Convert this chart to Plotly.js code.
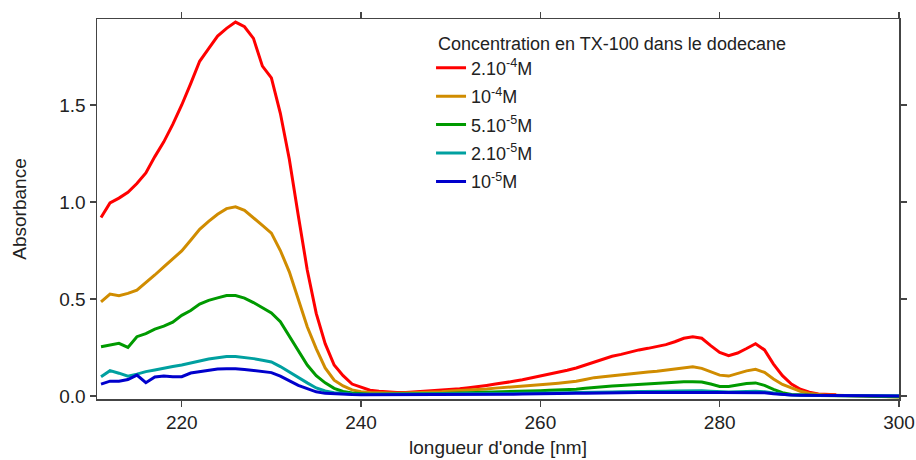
<!DOCTYPE html>
<html>
<head>
<meta charset="utf-8">
<script src="https://cdn.plot.ly/plotly-3.0.1.min.js"></script>
<style>html,body{margin:0;padding:0;background:#fff;} #chart{width:916px;height:460px;}</style>
</head>
<body>
<div id="chart"></div>
<script>
// wavelengths (nm) 211..300
const wavelength = [211,212,213,214,215,216,217,218,219,220,221,222,223,224,225,226,227,228,229,230,
  231,232,233,234,235,236,237,238,239,240,241,242,243,244,245,246,247,248,249,250,
  251,252,253,254,255,256,257,258,259,260,261,262,263,264,265,266,267,268,269,270,
  271,272,273,274,275,276,277,278,279,280,281,282,283,284,285,286,287,288,289,290,
  291,292,293,294,295,296,297,298,299,300];

const seriesNames = ["2.10<sup>-4</sup>M","10<sup>-4</sup>M","5.10<sup>-5</sup>M","2.10<sup>-5</sup>M","10<sup>-5</sup>M"];

const abs_2e4 = [0.92,0.995,1.02,1.05,1.095,1.15,1.234,1.31,1.40,1.50,1.61,1.725,1.79,1.855,1.895,1.927,1.903,1.843,1.70,1.64,
  1.457,1.22,0.93,0.65,0.426,0.27,0.16,0.105,0.062,0.045,0.03,0.025,0.02,0.018,0.018,0.021,0.024,0.027,0.03,0.033,
  0.038,0.043,0.048,0.055,0.062,0.068,0.076,0.084,0.093,0.102,0.112,0.122,0.133,0.145,0.16,0.176,0.19,0.205,0.215,0.228,
  0.238,0.246,0.255,0.265,0.28,0.298,0.306,0.298,0.26,0.225,0.208,0.222,0.245,0.27,0.238,0.165,0.105,0.062,0.035,0.02,
  0.011,0.008,0.007,null,null,null,null,null,null,null];

const abs_1e4 = [0.486,0.526,0.517,0.529,0.546,0.583,0.624,0.666,0.705,0.748,0.803,0.859,0.90,0.937,0.966,0.975,0.957,0.92,0.88,0.84,
  0.75,0.64,0.50,0.357,0.245,0.145,0.082,0.052,0.032,0.022,0.018,0.016,0.015,0.015,0.016,0.017,0.019,0.021,0.023,0.026,
  0.028,0.031,0.034,0.037,0.041,0.044,0.047,0.051,0.055,0.058,0.062,0.066,0.071,0.076,0.085,0.095,0.10,0.105,0.11,0.116,
  0.122,0.124,0.128,0.134,0.142,0.148,0.151,0.143,0.125,0.108,0.103,0.115,0.13,0.138,0.122,0.088,0.06,0.042,0.025,0.014,
  0.008,0.005,0.004,0.003,0.002,0.0,-0.002,-0.003,-0.004,-0.005];

const abs_5e5 = [0.254,0.262,0.272,0.251,0.306,0.322,0.345,0.36,0.381,0.416,0.441,0.474,0.493,0.506,0.518,0.518,0.505,0.482,0.456,0.428,
  0.383,0.31,0.235,0.16,0.105,0.068,0.04,0.024,0.016,0.012,0.01,0.009,0.009,0.009,0.01,0.01,0.011,0.012,0.013,0.014,
  0.015,0.016,0.017,0.018,0.02,0.021,0.023,0.025,0.026,0.028,0.03,0.031,0.033,0.035,0.04,0.045,0.05,0.052,0.055,0.058,
  0.06,0.063,0.066,0.069,0.072,0.074,0.074,0.073,0.062,0.05,0.05,0.058,0.065,0.068,0.055,0.035,0.018,0.008,0.005,0.004,
  0.003,0.003,0.002,0.002,0.001,0.0,-0.001,-0.002,-0.003,-0.003];

const abs_2e5 = [0.10,0.131,0.118,0.102,0.113,0.126,0.134,0.144,0.152,0.16,0.171,0.183,0.191,0.197,0.204,0.204,0.199,0.193,0.185,0.176,
  0.152,0.124,0.093,0.068,0.042,0.026,0.017,0.013,0.011,0.01,0.01,0.01,0.01,0.01,0.01,0.01,0.01,0.011,0.011,0.011,
  0.011,0.012,0.012,0.012,0.013,0.013,0.013,0.014,0.014,0.015,0.015,0.016,0.017,0.018,0.018,0.019,0.02,0.021,0.022,0.022,
  0.023,0.024,0.025,0.025,0.026,0.027,0.028,0.027,0.025,0.022,0.021,0.023,0.024,0.025,0.022,0.015,0.009,0.006,0.004,0.004,
  0.003,0.003,0.003,0.003,0.002,0.002,0.002,0.002,0.002,0.002];

const abs_1e5 = [0.062,0.077,0.077,0.085,0.108,0.069,0.098,0.104,0.10,0.10,0.119,0.126,0.132,0.14,0.141,0.141,0.137,0.132,0.127,0.121,
  0.103,0.08,0.055,0.038,0.022,0.014,0.011,0.009,0.008,0.007,0.007,0.007,0.007,0.007,0.007,0.007,0.008,0.008,0.008,0.008,
  0.008,0.009,0.009,0.009,0.01,0.01,0.01,0.011,0.011,0.012,0.012,0.013,0.013,0.014,0.015,0.015,0.016,0.017,0.017,0.018,
  0.018,0.019,0.019,0.02,0.021,0.021,0.022,0.021,0.019,0.018,0.018,0.018,0.019,0.019,0.017,0.012,0.008,0.005,0.004,0.004,
  0.003,0.003,0.002,0.002,0.002,0.001,0.001,0.001,0.001,0.001];

const seriesValues = [abs_2e4, abs_1e4, abs_5e5, abs_2e5, abs_1e5];
const seriesColors = ["#ff0000","#d08c00","#009a00","#00a0a0","#0000cc"];

const xTickVals = [220,240,260,280,300];
const yTickVals = [0,0.5,1.0,1.5];
const yTickText = ["0.0","0.5","1.0","1.5"];

const traces = seriesValues.map((v,i)=>({
  x: wavelength, y: v, type:'scatter', mode:'lines', name: seriesNames[i],
  legendgroup: 'g'+i,
  line:{color: seriesColors[i], width:3}, connectgaps:false
}));

const axisCommon = {
  showline:true, linecolor:'#444', linewidth:1.5, mirror:'allticks',
  ticks:'outside', ticklen:6, tickwidth:1.2, tickcolor:'#444',
  showgrid:false, zeroline:false,
  tickfont:{family:'Arial, Liberation Sans, sans-serif', size:19, color:'#222'}
};

const layout = {
  width:916, height:460,
  margin:{l:97, r:17, t:19, b:61},
  paper_bgcolor:'#fff', plot_bgcolor:'#fff',
  font:{family:'Arial, Liberation Sans, sans-serif', color:'#222'},
  xaxis: Object.assign({}, axisCommon, {
    range:[210.55,300], tickvals:xTickVals,
    title:{text:"longueur d'onde [nm]", font:{size:19, color:'#222'}, standoff:8}
  }),
  yaxis: Object.assign({}, axisCommon, {
    range:[-0.015,1.943], tickvals:yTickVals, ticktext:yTickText,
    title:{text:"Absorbance", font:{size:19, color:'#222'}, standoff:27}
  }),
  showlegend:true,
  legend:{
    x:0.4165, y:0.981, xanchor:'left', yanchor:'top',
    bgcolor:'rgba(0,0,0,0)', borderwidth:0,
    font:{family:'Arial, Liberation Sans, sans-serif', size:18, color:'#222'},
    title:{text:"\u00A0Concentration en TX-100 dans le dodecane", font:{size:18, color:'#222'}},
    itemwidth:30, tracegroupgap:2
  }
};

Plotly.newPlot('chart', traces, layout, {displayModeBar:false, staticPlot:true});
</script>
</body>
</html>
